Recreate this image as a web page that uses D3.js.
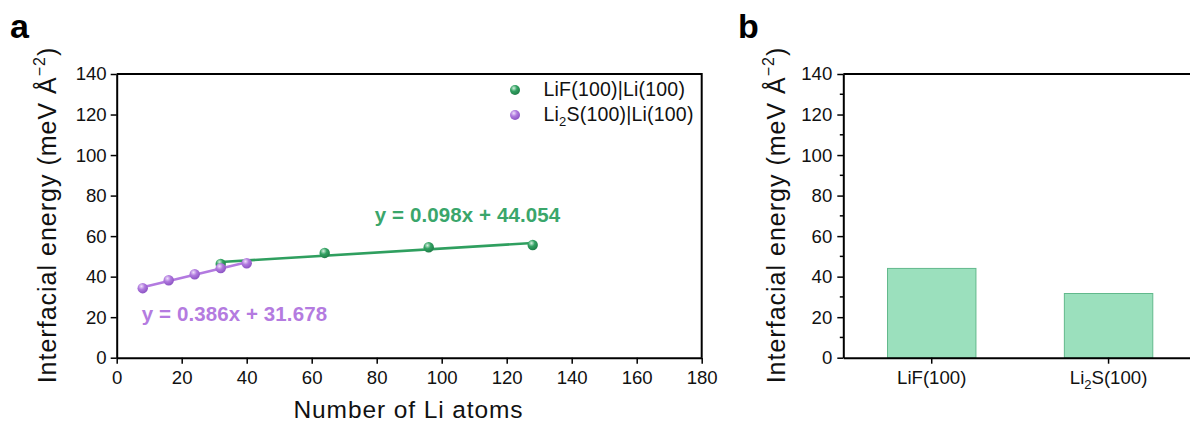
<!DOCTYPE html>
<html>
<head>
<meta charset="utf-8">
<script src="https://cdn.jsdelivr.net/npm/d3@7"></script>
<style>
  html, body { margin: 0; padding: 0; background: #fff; }
  svg { display: block; font-family: "Liberation Sans", Arial, Helvetica, sans-serif; }
</style>
</head>
<body>
<svg id="chart" width="1190" height="423"></svg>
<script>
// ---- data ----
const lifX = [32, 64, 96, 128];
const lifY = [46.3, 51.7, 54.5, 55.6];
const li2sX = [8, 16, 24, 32, 40];
const li2sY = [34.3, 38.2, 41.2, 44.2, 46.6];

// linear fits (slope, intercept) as printed on the chart
const fitSlopes = [0.098, 0.386];
const fitIntercepts = [44.054, 31.678];
const fitRanges = [[32, 128], [8, 40]];

const barCategories = ["LiF(100)", "Li2S(100)"];
const barValues = fitIntercepts;

const xTicks = [0, 20, 40, 60, 80, 100, 120, 140, 160, 180];
const yTicks = [0, 20, 40, 60, 80, 100, 120, 140];
const yMinorTicks = [10, 30, 50, 70, 90, 110, 130];

const colors = {
  lifLine: "#2f9f5f", lifText: "#3aa66b",
  li2sLine: "#b37ae0", li2sText: "#b47be0",
  barFill: "#9be0bd", barStroke: "#62b98c"
};

const svg = d3.select("#chart");
const fontTick = 18.6;

// ---- gradients for spherical markers ----
const defs = svg.append("defs");
function sphere(id, hi, mid, edge) {
  const g = defs.append("radialGradient").attr("id", id)
    .attr("cx", "38%").attr("cy", "32%").attr("r", "70%");
  g.append("stop").attr("offset", "0%").attr("stop-color", hi);
  g.append("stop").attr("offset", "45%").attr("stop-color", mid);
  g.append("stop").attr("offset", "100%").attr("stop-color", edge);
}
sphere("gGreen", "#d6f0e0", "#33a263", "#1f7d47");
sphere("gPurple", "#efe0fb", "#b07ade", "#8a52c2");

// ---- scales ----
const yTop = 74, yBottom = 357.7;
const xA = d3.scaleLinear().domain([0, 180]).range([116.7, 701.7]);
const yScale = d3.scaleLinear().domain([0, 140]).range([yBottom, yTop]);
const xB = d3.scaleBand().domain(barCategories).range([843.3, 1197])
  .paddingInner(0.5).paddingOuter(0.25);

function styleAxis(g) {
  g.selectAll(".domain").attr("stroke", "#000").attr("stroke-width", 2);
  g.selectAll(".tick line").attr("stroke", "#000").attr("stroke-width", 1.5);
  g.selectAll(".tick text").attr("font-size", fontTick).attr("fill", "#111")
    .attr("font-family", "Liberation Sans, Arial, sans-serif");
}

// ================= panel a =================
const pa = svg.append("g");

// frame (top & right)
pa.append("path")
  .attr("d", `M${xA(0)},${yTop}H${xA(180)}V${yBottom}`)
  .attr("fill", "none").attr("stroke", "#000").attr("stroke-width", 2);

const axXa = pa.append("g").attr("transform", `translate(0,${yBottom})`)
  .call(d3.axisBottom(xA).tickValues(xTicks).tickSize(6).tickPadding(7).tickSizeOuter(0));
styleAxis(axXa);

const axYa = pa.append("g").attr("transform", `translate(${xA(0)},0)`)
  .call(d3.axisLeft(yScale).tickValues(yTicks).tickSize(6).tickPadding(4).tickSizeOuter(0));
styleAxis(axYa);

// fit lines and points
const series = [
  { xs: lifX, ys: lifY, line: colors.lifLine, grad: "url(#gGreen)", i: 0 },
  { xs: li2sX, ys: li2sY, line: colors.li2sLine, grad: "url(#gPurple)", i: 1 }
];
const lineGen = d3.line().x(d => xA(d[0])).y(d => yScale(d[1]));
series.forEach(s => {
  const r = fitRanges[s.i];
  const pts = r.map(x => [x, fitSlopes[s.i] * x + fitIntercepts[s.i]]);
  pa.append("path").datum(pts).attr("d", lineGen)
    .attr("fill", "none").attr("stroke", s.line).attr("stroke-width", 2.6);
  pa.append("g").selectAll("circle")
    .data(s.xs.map((x, k) => [x, s.ys[k]]))
    .join("circle")
    .attr("cx", d => xA(d[0])).attr("cy", d => yScale(d[1]))
    .attr("r", 5.2).attr("fill", s.grad);
});

// fit equations
const eqLabels = [
  { text: "y = 0.098x + 44.054", x: 79.4, y: 67.1, color: colors.lifText },
  { text: "y = 0.386x + 31.678", x: 7.7, y: 18.2, color: colors.li2sText }
];
pa.selectAll("text.eq").data(eqLabels).join("text").attr("class", "eq")
  .attr("x", d => xA(d.x)).attr("y", d => yScale(d.y))
  .attr("fill", d => d.color).attr("font-weight", "bold").attr("font-size", 20.5)
  .attr("letter-spacing", 0.1)
  .text(d => d.text);

// legend
const legend = pa.append("g");
const legItems = [
  { grad: "url(#gGreen)", parts: [["LiF(100)|Li(100)", false]] },
  { grad: "url(#gPurple)", parts: [["Li", false], ["2", true], ["S(100)|Li(100)", false]] }
];
legItems.forEach((it, k) => {
  const cy = 90 + k * 25;
  legend.append("circle").attr("cx", 515).attr("cy", cy).attr("r", 5).attr("fill", it.grad);
  const t = legend.append("text").attr("x", 543.5).attr("y", cy + 6.3)
    .attr("font-size", 19.5).attr("letter-spacing", 0.2).attr("fill", "#111");
  it.parts.forEach(([s, sub], j) => {
    const ts = t.append("tspan").text(s);
    if (sub) ts.attr("font-size", 13).attr("dy", 5);
    else if (j > 0) ts.attr("dy", -5);
  });
});

// axis titles
function yTitle(g, x) {
  const t = g.append("text")
    .attr("transform", `translate(${x},215) rotate(-90)`)
    .attr("text-anchor", "middle").attr("font-size", 25).attr("letter-spacing", 1)
    .attr("fill", "#111");
  t.append("tspan").text("Interfacial energy (meV Å");
  t.append("tspan").text("−2").attr("font-size", 16).attr("dy", -11);
  t.append("tspan").text(")").attr("dy", 11);
}
yTitle(pa, 56);

pa.append("text").attr("x", 408.5).attr("y", 418).attr("text-anchor", "middle")
  .attr("font-size", 24.5).attr("letter-spacing", 0.9).attr("fill", "#111")
  .text("Number of Li atoms");

// panel letter
svg.append("text").attr("x", 10).attr("y", 38).attr("font-size", 34)
  .attr("font-weight", "bold").attr("fill", "#000").text("a");

// ================= panel b =================
const pb = svg.append("g");

pb.append("line").attr("x1", 843.3).attr("x2", 1197).attr("y1", yTop).attr("y2", yTop)
  .attr("stroke", "#000").attr("stroke-width", 2);

pb.append("g").selectAll("rect").data(barCategories.map((c, i) => [c, barValues[i]]))
  .join("rect")
  .attr("x", d => xB(d[0])).attr("width", xB.bandwidth())
  .attr("y", d => yScale(d[1])).attr("height", d => yBottom - yScale(d[1]))
  .attr("fill", colors.barFill).attr("stroke", colors.barStroke).attr("stroke-width", 1);

const axXb = pb.append("g").attr("transform", `translate(0,${yBottom})`)
  .call(d3.axisBottom(xB).tickSize(6).tickPadding(7).tickSizeOuter(0));
styleAxis(axXb);
axXb.selectAll(".tick text").each(function(d) {
  const t = d3.select(this);
  if (d === "Li2S(100)") {
    t.text(null);
    t.append("tspan").text("Li");
    t.append("tspan").text("2").attr("font-size", 13).attr("dy", 5);
    t.append("tspan").text("S(100)").attr("dy", -5);
  }
});

const axYb = pb.append("g").attr("transform", `translate(843.3,0)`)
  .call(d3.axisLeft(yScale).tickValues(yTicks).tickSize(6).tickPadding(5).tickSizeOuter(0));
styleAxis(axYb);
pb.append("g").selectAll("line").data(yMinorTicks).join("line")
  .attr("x1", 843.3 - 3.5).attr("x2", 843.3)
  .attr("y1", d => yScale(d)).attr("y2", d => yScale(d))
  .attr("stroke", "#000").attr("stroke-width", 1.5);

yTitle(pb, 785);

svg.append("text").attr("x", 738).attr("y", 38).attr("font-size", 34)
  .attr("font-weight", "bold").attr("fill", "#000").text("b");
</script>
</body>
</html>
